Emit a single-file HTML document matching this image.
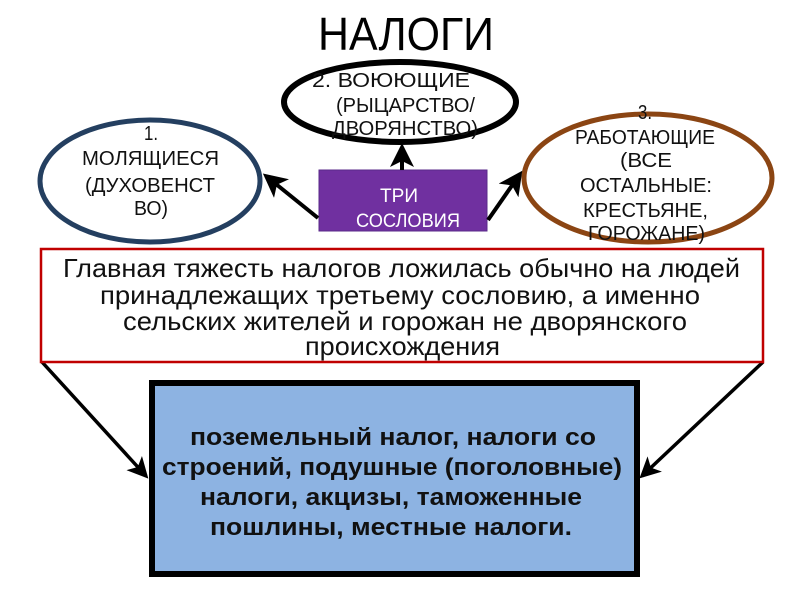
<!DOCTYPE html>
<html><head><meta charset="utf-8"><style>
body{margin:0;background:#fff}
svg text{font-family:"Liberation Sans",sans-serif}
</style></head><body>
<svg width="800" height="600" viewBox="0 0 800 600">
<defs><marker id="a" markerWidth="6" markerHeight="6" refX="5" refY="3" orient="auto" markerUnits="strokeWidth"><path d="M0,0 L6,3 L0,6 L1.5,3z" fill="#000"/></marker></defs>
<text x="318" y="50" font-size="46" textLength="176" lengthAdjust="spacingAndGlyphs">НАЛОГИ</text>
<ellipse cx="400" cy="102" rx="116" ry="40" fill="#fff" stroke="#000" stroke-width="6"/>
<ellipse cx="150" cy="181" rx="110" ry="61" fill="#fff" stroke="#243f60" stroke-width="5"/>
<ellipse cx="648" cy="178" rx="124" ry="64" fill="#fff" stroke="#8b4513" stroke-width="5"/>
<g font-size="20" fill="#111">
<text x="312" y="87" textLength="158" lengthAdjust="spacingAndGlyphs">2. ВОЮЮЩИЕ</text>
<text x="336" y="112" textLength="139" lengthAdjust="spacingAndGlyphs">(РЫЦАРСТВО/</text>
<text x="332" y="135" textLength="146" lengthAdjust="spacingAndGlyphs">ДВОРЯНСТВО)</text>
<text x="144" y="140" textLength="14" lengthAdjust="spacingAndGlyphs">1.</text>
<text x="82" y="165" textLength="137" lengthAdjust="spacingAndGlyphs">МОЛЯЩИЕСЯ</text>
<text x="85" y="192" textLength="130" lengthAdjust="spacingAndGlyphs">(ДУХОВЕНСТ</text>
<text x="134" y="215" textLength="34" lengthAdjust="spacingAndGlyphs">ВО)</text>
<text x="638" y="119" textLength="14" lengthAdjust="spacingAndGlyphs">3.</text>
<text x="575" y="144" textLength="140" lengthAdjust="spacingAndGlyphs">РАБОТАЮЩИЕ</text>
<text x="620" y="167" textLength="52" lengthAdjust="spacingAndGlyphs">(ВСЕ</text>
<text x="580" y="192" textLength="132" lengthAdjust="spacingAndGlyphs">ОСТАЛЬНЫЕ:</text>
<text x="583" y="217" textLength="125" lengthAdjust="spacingAndGlyphs">КРЕСТЬЯНЕ,</text>
<text x="588" y="240" textLength="117" lengthAdjust="spacingAndGlyphs">ГОРОЖАНЕ)</text>
</g>
<rect x="319" y="170" width="168" height="61" fill="#7030a0" stroke="#5a2a8a" stroke-width="1"/>
<text x="380" y="202" font-size="19" fill="#fff" textLength="38" lengthAdjust="spacingAndGlyphs">ТРИ</text>
<text x="356" y="227" font-size="19" fill="#fff" textLength="104" lengthAdjust="spacingAndGlyphs">СОСЛОВИЯ</text>
<g stroke="#000" stroke-width="4" fill="none" marker-end="url(#a)">
<line x1="318" y1="218" x2="266" y2="176"/>
<line x1="402" y1="170" x2="402" y2="147"/>
<line x1="488" y1="220" x2="520" y2="174"/>
<line x1="42" y1="362" x2="146" y2="476" stroke-width="3.5"/>
<line x1="763" y1="362" x2="642" y2="476" stroke-width="3.5"/>
</g>
<rect x="41" y="249" width="722" height="113" fill="#fff" stroke="#c00000" stroke-width="2.5"/>
<g font-size="26" fill="#111">
<text x="63" y="277" textLength="677" lengthAdjust="spacingAndGlyphs">Главная тяжесть налогов ложилась обычно на людей</text>
<text x="100" y="304" textLength="600" lengthAdjust="spacingAndGlyphs">принадлежащих третьему сословию, а именно</text>
<text x="123" y="330" textLength="564" lengthAdjust="spacingAndGlyphs">сельских жителей и горожан не дворянского</text>
<text x="305" y="355" textLength="195" lengthAdjust="spacingAndGlyphs">происхождения</text>
</g>
<rect x="152" y="383" width="485" height="191" fill="#8db3e2" stroke="#000" stroke-width="6"/>
<g font-size="24" font-weight="bold" fill="#111">
<text x="190" y="445" textLength="406" lengthAdjust="spacingAndGlyphs">поземельный налог, налоги со</text>
<text x="162" y="475" textLength="460" lengthAdjust="spacingAndGlyphs">строений, подушные (поголовные)</text>
<text x="200" y="505" textLength="382" lengthAdjust="spacingAndGlyphs">налоги, акцизы, таможенные</text>
<text x="210" y="535" textLength="362" lengthAdjust="spacingAndGlyphs">пошлины, местные налоги.</text>
</g>
</svg>
</body></html>
